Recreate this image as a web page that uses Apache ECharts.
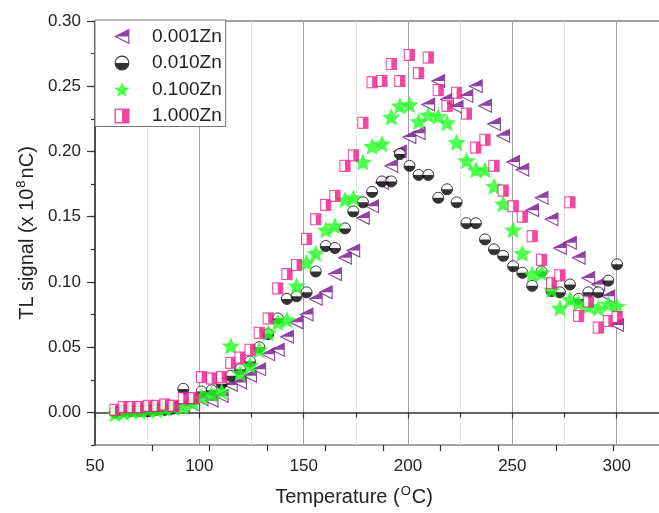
<!DOCTYPE html>
<html>
<head>
<meta charset="utf-8">
<script src="https://cdn.jsdelivr.net/npm/echarts@6/dist/echarts.min.js"></script>
<style>
  html, body { margin: 0; padding: 0; background: #fff; }
  #chart { width: 659px; height: 513px; }
</style>
</head>
<body>
<div id="chart"></div>
<script>
// temperature points (°C), shared by all four samples
var temps = [59.6, 63.6, 67.6, 71.6, 75.5, 79.6, 83.5, 87.5, 92.3, 97.1,
  101.1, 105.9, 110.7, 115.1, 119.5, 124.3, 128.7, 133, 137.6, 142,
  146.6, 151.4, 155.8, 160.6, 165, 169.8, 173.8, 178.4, 182.8, 187.5,
  192, 196.1, 200.7, 205.1, 209.7, 214.5, 218.7, 223.3, 228, 232.5,
  236.9, 241.2, 245.6, 250.4, 254.8, 259.5, 264, 268.8, 272.8, 277.6,
  281.8, 286.4, 291.2, 296, 300.2];

// TL signal (x 10^8 nC)
var zn0001 = [0.000, 0.001, 0.002, 0.002, 0.002, 0.003, 0.003, 0.004, 0.005, 0.006,
  0.010, 0.009, 0.0125, 0.021, 0.023, 0.028, 0.033, 0.0445, 0.048, 0.058,
  0.069, 0.075, 0.087, 0.092, 0.106, 0.1186, 0.124, 0.149, 0.158, 0.176,
  0.189, 0.200, 0.211, 0.214, 0.236, 0.254, 0.240, 0.234, 0.2425, 0.250,
  0.235, 0.221, 0.212, 0.192, 0.186, 0.155, 0.1645, 0.148, 0.126, 0.130,
  0.1185, 0.103, 0.098, 0.089, 0.067];

var zn0010 = [0.000, 0.001, 0.001, 0.001, 0.001, 0.002, 0.002, 0.003, 0.018, 0.010,
  0.016, 0.017, 0.022, 0.028, 0.033, 0.039, 0.050, 0.060, 0.072, 0.087,
  0.089, 0.092, 0.108, 0.1275, 0.126, 0.141, 0.154, 0.161, 0.169, 0.177,
  0.177, 0.198, 0.189, 0.182, 0.182, 0.1645, 0.171, 0.161, 0.145, 0.145,
  0.1326, 0.125, 0.120, 0.112, 0.107, 0.097, 0.108, 0.093, 0.092, 0.098,
  0.087, 0.092, 0.092, 0.101, 0.1135];

var zn0100 = [-0.001, 0.000, 0.001, 0.001, 0.002, 0.002, 0.003, 0.004, 0.004, 0.0075,
  0.012, 0.014, 0.016, 0.051, 0.030, 0.036, 0.048, 0.061, 0.069, 0.071,
  0.097, 0.115, 0.122, 0.140, 0.143, 0.163, 0.1645, 0.192, 0.204, 0.206,
  0.2265, 0.235, 0.236, 0.223, 0.228, 0.227, 0.222, 0.207, 0.193, 0.186,
  0.186, 0.1735, 0.160, 0.140, 0.122, 0.106, 0.107, 0.094, 0.080, 0.0866,
  0.084, 0.0815, 0.080, 0.083, 0.0815];

var zn1000 = [0.002, 0.004, 0.004, 0.004, 0.005, 0.005, 0.006, 0.005, 0.011, 0.011,
  0.027, 0.026, 0.027, 0.038, 0.042, 0.048, 0.061, 0.072, 0.095, 0.106,
  0.113, 0.133, 0.148, 0.159, 0.166, 0.189, 0.197, 0.222, 0.253, 0.254,
  0.267, 0.254, 0.274, 0.260, 0.272, 0.247, 0.235, 0.245, 0.229, 0.203,
  0.209, 0.189, 0.170, 0.158, 0.150, 0.135, 0.117, 0.099, 0.105, 0.161,
  0.074, 0.085, 0.065, 0.070, 0.073];

var seriesNames = ['0.001Zn', '0.010Zn', '0.100Zn', '1.000Zn'];
var yTicks = [0, 0.05, 0.10, 0.15, 0.20, 0.25, 0.30];

var purple = '#72138a', pink = '#ee1a88', green = '#22ff22';

function svgSym(body) {
  var s = '<svg xmlns="http://www.w3.org/2000/svg" width="32" height="32" viewBox="0 0 16 16">' + body + '</svg>';
  return 'image://data:image/svg+xml;charset=utf-8,' + encodeURIComponent(s);
}

// half filled markers like the original plot
var triSym = svgSym('<polygon points="1.2,8 14.8,1.2 14.8,14.8" fill="#fff" stroke="' + purple + '" stroke-width="1.2"/>' +
  '<polygon points="1.2,8 14.8,1.2 14.8,8" fill="' + purple + '"/>');
var cirSym = svgSym('<circle cx="8" cy="8" r="6.8" fill="#fff" stroke="#000" stroke-width="1.2"/>' +
  '<path d="M1.2,8 A6.8,6.8 0 0 0 14.8,8 Z" fill="#000"/>');
var sqSym = svgSym('<rect x="1.2" y="1.2" width="13.6" height="13.6" fill="#fff" stroke="' + pink + '" stroke-width="1.4"/>' +
  '<rect x="8" y="1.2" width="6.8" height="13.6" fill="' + pink + '"/>');
var starPts = [];
for (var k = 0; k < 10; k++) {
  var r = k % 2 === 0 ? 8 : 3.7;
  var a = -Math.PI / 2 + k * Math.PI / 5;
  starPts.push((8 + r * Math.cos(a)).toFixed(2) + ',' + (8.8 + r * Math.sin(a)).toFixed(2));
}
var starSym = svgSym('<polygon points="' + starPts.join(' ') + '" fill="' + green + '"/>');

function pts(ys) {
  return temps.map(function (t, i) { return [t, ys[i]]; });
}

var font = 'Liberation Sans, Arial, sans-serif';
var mychart = echarts.init(document.getElementById('chart'));

var option = {
  animation: false,
  grid: [
    { left: 95, top: 21, right: -62, bottom: 68, outerBoundsMode: 'none', containLabel: false,
      show: true, borderColor: '#444', borderWidth: 1 },
    { left: 152, top: 21, right: -70, bottom: 68, outerBoundsMode: 'none', containLabel: false }
  ],
  legend: {
    orient: 'vertical',
    left: 95,
    top: 20,
    padding: [7, 4, 1, 19],
    itemWidth: 16,
    itemHeight: 16,
    itemGap: 7.5,
    borderColor: '#777',
    borderWidth: 1,
    backgroundColor: '#fff',
    textStyle: { fontSize: 19, color: '#222', fontFamily: font, lineHeight: 16, padding: [0, 0, 0, 17] },
    data: [
      { name: seriesNames[0], icon: triSym },
      { name: seriesNames[1], icon: cirSym },
      { name: seriesNames[2], icon: starSym },
      { name: seriesNames[3], icon: sqSym }
    ]
  },
  xAxis: [
    {
      type: 'value', gridIndex: 0, min: 50, max: 350, interval: 50,
      name: '{a|Temperature (}{s|O}{a|C)}',
      nameLocation: 'middle', nameGap: 40,
      nameTextStyle: {
        padding: [0, 108, 0, 0],
        rich: {
          a: { fontSize: 20, color: '#222', fontFamily: font, lineHeight: 24 },
          s: { fontSize: 13, color: '#222', fontFamily: font, lineHeight: 24, verticalAlign: 'top', padding: [0, 1, 0, 1] }
        }
      },
      axisLine: { lineStyle: { color: '#333', width: 1.5 } },
      axisTick: { length: 6, lineStyle: { color: '#333', width: 1.2 } },
      minorTick: { show: true, splitNumber: 2, length: 5, lineStyle: { color: '#333', width: 1.2 } },
      axisLabel: { fontSize: 17, color: '#222', fontFamily: font, margin: 13 },
      splitLine: { show: true, lineStyle: { color: '#a0a0a0', width: 1 } },
      minorSplitLine: { show: true, lineStyle: { color: '#d8d8d8', type: 'dashed', width: 1 } }
    },
    {
      type: 'value', gridIndex: 1, position: 'top', min: 0, max: 10, interval: 1,
      axisLine: { show: false },
      axisTick: { inside: true, length: 6, lineStyle: { color: '#333', width: 1.2 } },
      axisLabel: { show: false },
      splitLine: { show: false }
    }
  ],
  yAxis: [
    {
      type: 'value', gridIndex: 0, min: -0.025, max: 0.30, interval: 0.025,
      name: '{a|TL signal (x 10}{s|8}{a|nC)}',
      nameLocation: 'middle', nameGap: 55,
      nameTextStyle: {
        rich: {
          a: { fontSize: 20, color: '#222', fontFamily: font, lineHeight: 24 },
          s: { fontSize: 13, color: '#222', fontFamily: font, lineHeight: 24, verticalAlign: 'top', padding: [0, 2, 0, 1] }
        }
      },
      axisLine: { show: true, lineStyle: { color: '#333', width: 1.5 } },
      axisTick: { show: true, length: 4, lineStyle: { color: '#333', width: 1.2 } },
      axisLabel: {
        fontSize: 17, color: '#222', fontFamily: font, margin: 14,
        formatter: function (v) {
          return Math.round(v * 1000) % 50 === 0 ? v.toFixed(2) : '';
        }
      },
      splitLine: { show: false }
    },
    {
      type: 'value', gridIndex: 0, position: 'left', min: -0.025, max: 0.30,
      axisLine: { show: false },
      axisTick: { show: true, length: 8, customValues: yTicks, lineStyle: { color: '#333', width: 1.2 } },
      axisLabel: { show: false },
      splitLine: { show: false }
    },
    { type: 'value', gridIndex: 1, show: false, min: 0, max: 1 }
  ],
  series: [
    { name: seriesNames[0], type: 'scatter', xAxisIndex: 0, yAxisIndex: 0, symbol: triSym, symbolSize: [15, 15], data: pts(zn0001) },
    { name: seriesNames[1], type: 'scatter', xAxisIndex: 0, yAxisIndex: 0, symbol: cirSym, symbolSize: [13, 13], data: pts(zn0010) },
    { name: seriesNames[2], type: 'scatter', xAxisIndex: 0, yAxisIndex: 0, symbol: starSym, symbolSize: [19, 19], data: pts(zn0100) },
    { name: seriesNames[3], type: 'scatter', xAxisIndex: 0, yAxisIndex: 0, symbol: sqSym, symbolSize: [12, 13], data: pts(zn1000) }
  ]
};

mychart.setOption(option);
</script>
</body>
</html>
